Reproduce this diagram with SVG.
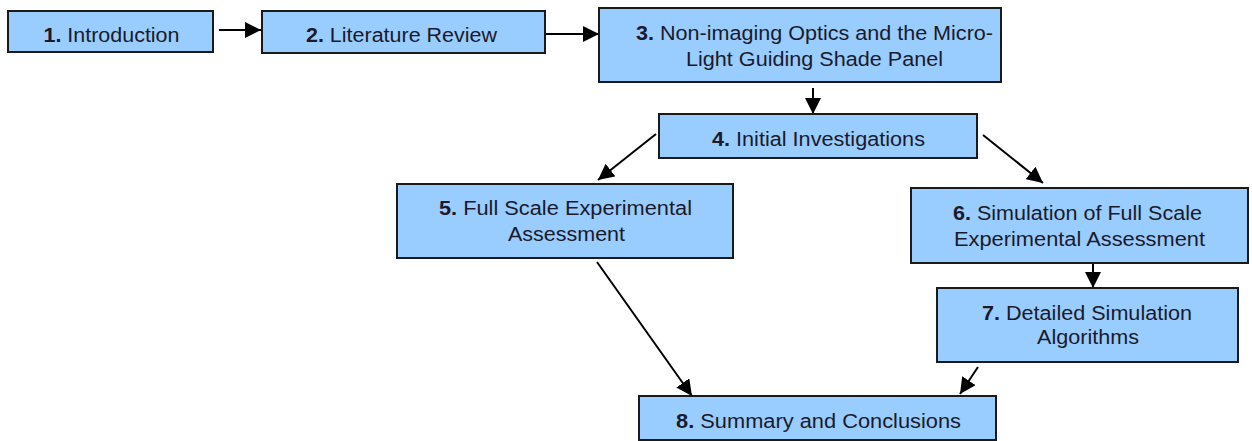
<svg xmlns="http://www.w3.org/2000/svg" width="1252" height="441" viewBox="0 0 1252 441">
<defs>
<style>
.box{fill:#99CCFF;stroke:#1a1a1a;stroke-width:2}
.t{font-family:"Liberation Sans",Arial,sans-serif;font-size:20px;fill:#1a1a2a;text-anchor:middle}
.n{font-weight:bold}
.c{stroke:#000;stroke-width:2;fill:none}
</style>
<marker id="ahb" viewBox="0 0 10 10" refX="10" refY="5" markerWidth="8" markerHeight="8" orient="auto">
<path d="M0,0 L10,5 L0,10 z" fill="#000"/>
</marker>
</defs>
<rect width="1252" height="441" fill="#fff"/>
<g id="connectors">
<path class="c" d="M219,30 L261,30" marker-end="url(#ahb)"/>
<path class="c" d="M545,34 L599,34" marker-end="url(#ahb)"/>
<path class="c" d="M813,88 L813,114" marker-end="url(#ahb)"/>
<path class="c" d="M656,134 L598,180" marker-end="url(#ahb)"/>
<path class="c" d="M983,135 L1043,183" marker-end="url(#ahb)"/>
<path class="c" d="M1093,263 L1093,288" marker-end="url(#ahb)"/>
<path class="c" d="M597,262 L692,396" marker-end="url(#ahb)"/>
<path class="c" d="M978,367 L960,394" marker-end="url(#ahb)"/>
</g>
<g id="node1">
<rect class="box" x="8" y="11" width="205" height="41"/>
<text class="t" x="111.5" y="42" textLength="136" lengthAdjust="spacingAndGlyphs"><tspan class="n">1.</tspan> Introduction</text>
</g>
<g id="node2">
<rect class="box" x="262" y="11" width="283" height="42"/>
<text class="t" x="401.5" y="42" textLength="191" lengthAdjust="spacingAndGlyphs"><tspan class="n">2.</tspan> Literature Review</text>
</g>
<g id="node3">
<rect class="box" x="599" y="8" width="402" height="74"/>
<text class="t" x="814.5" y="40" textLength="357" lengthAdjust="spacingAndGlyphs"><tspan class="n">3.</tspan> Non-imaging Optics and the Micro-</text>
<text class="t" x="814.5" y="66" textLength="257" lengthAdjust="spacingAndGlyphs">Light Guiding Shade Panel</text>
</g>
<g id="node4">
<rect class="box" x="659" y="114" width="318" height="44"/>
<text class="t" x="818.5" y="146" textLength="213" lengthAdjust="spacingAndGlyphs"><tspan class="n">4.</tspan> Initial Investigations</text>
</g>
<g id="node5">
<rect class="box" x="397" y="184" width="336" height="74"/>
<text class="t" x="565.5" y="215" textLength="253" lengthAdjust="spacingAndGlyphs"><tspan class="n">5.</tspan> Full Scale Experimental</text>
<text class="t" x="566.5" y="241" textLength="117" lengthAdjust="spacingAndGlyphs">Assessment</text>
</g>
<g id="node6">
<rect class="box" x="911" y="188" width="337" height="75"/>
<text class="t" x="1077.5" y="220" textLength="249" lengthAdjust="spacingAndGlyphs"><tspan class="n">6.</tspan> Simulation of Full Scale</text>
<text class="t" x="1079.5" y="246" textLength="251" lengthAdjust="spacingAndGlyphs">Experimental Assessment</text>
</g>
<g id="node7">
<rect class="box" x="937" y="288" width="301" height="74"/>
<text class="t" x="1087" y="320" textLength="210" lengthAdjust="spacingAndGlyphs"><tspan class="n">7.</tspan> Detailed Simulation</text>
<text class="t" x="1088" y="344" textLength="102" lengthAdjust="spacingAndGlyphs">Algorithms</text>
</g>
<g id="node8">
<rect class="box" x="639" y="396" width="357" height="44"/>
<text class="t" x="818.5" y="428" textLength="285" lengthAdjust="spacingAndGlyphs"><tspan class="n">8.</tspan> Summary and Conclusions</text>
</g>
</svg>
